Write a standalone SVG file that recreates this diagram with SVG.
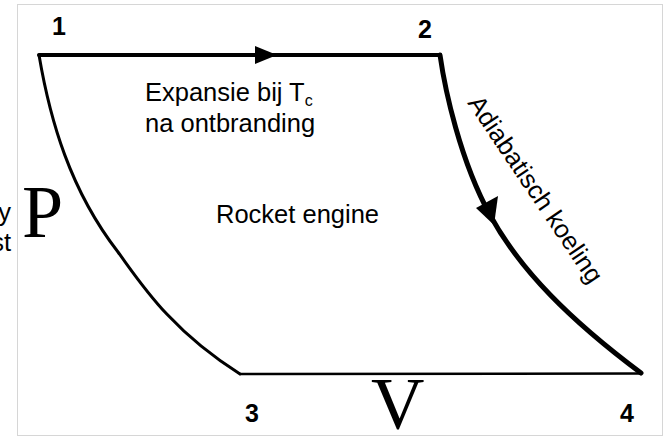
<svg xmlns="http://www.w3.org/2000/svg" width="667" height="437" viewBox="0 0 667 437">
<style>
.lbl{font-family:"Liberation Sans",Arial,sans-serif;font-size:25.5px;fill:#000}
.num{font-family:"Liberation Sans",Arial,sans-serif;font-size:25px;font-weight:bold;fill:#000;text-anchor:middle}
.big{font-family:"Liberation Serif","Times New Roman",serif;font-size:74px;fill:#000}
.edge{fill:none;stroke:#000;stroke-linejoin:round;stroke-linecap:round}
</style>
<rect x="17.5" y="4.5" width="645" height="431" fill="#fff" stroke="#d6d6d6" stroke-width="1"/>
<g id="connectors">
<path id="e12" class="edge" d="M39,55 L440,55" stroke-width="4"/>
<polygon points="255,46 277,55 255,64" fill="#000"/>
<path id="e24" class="edge" d="M440,55 C445,90 460,160 490,215 C520,270 570,320 641,373" stroke-width="5"/>
<polygon points="476,208 498,196 494,225" fill="#000"/>
<path id="e43" class="edge" d="M641,373.5 L240,374" stroke-width="2.5"/>
<path id="e31" class="edge" d="M240,374 C170,330 140,282 118,252 C70,190 50,120 39,55" stroke-width="3"/>
</g>
<g id="n1"><text class="num" x="59" y="35">1</text></g>
<g id="n2"><text class="num" x="425" y="38">2</text></g>
<g id="n3"><text class="num" x="252" y="422">3</text></g>
<g id="n4"><text class="num" x="627" y="422">4</text></g>
<g id="axisP"><text class="big" x="22" y="237">P</text></g>
<g id="axisV"><text class="big" x="371" y="429">V</text></g>
<g id="cut"><text class="lbl" x="11" y="221" text-anchor="end">y</text><text class="lbl" x="11" y="251" text-anchor="end">st</text></g>
<g id="lblExp"><text class="lbl" x="145" y="101">Expansie bij T<tspan font-size="16" dy="5">c</tspan></text><text class="lbl" x="145" y="132">na ontbranding</text></g>
<g id="lblRocket"><text class="lbl" x="216" y="223">Rocket engine</text></g>
<g id="lblAdia"><text class="lbl" transform="translate(467,103) rotate(56)">Adiabatisch koeling</text></g>
</svg>
